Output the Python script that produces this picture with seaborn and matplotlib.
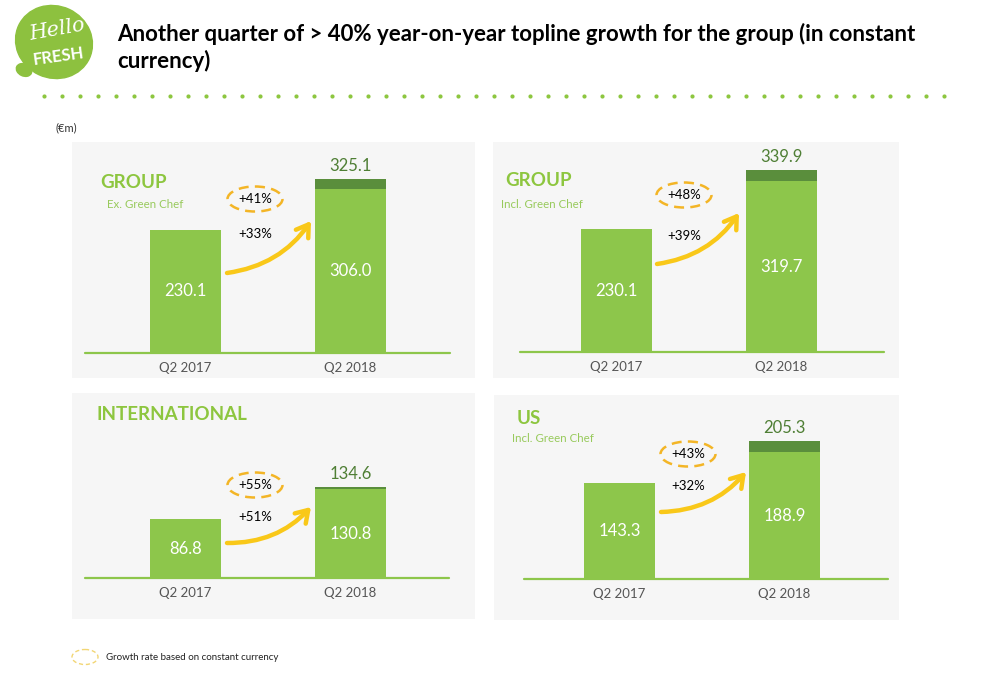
import numpy as np
import pandas as pd
import matplotlib
matplotlib.use("Agg")
import matplotlib.pyplot as plt
from matplotlib.patches import Ellipse
import seaborn as sns

# ---------------- data ----------------
periods = ["Q2 2017", "Q2 2018"]
panel_titles = ["GROUP", "GROUP", "INTERNATIONAL", "US"]
panel_subtitles = ["Ex. Green Chef", "Incl. Green Chef", "", "Incl. Green Chef"]
q2_2017 = [230.1, 230.1, 86.8, 143.3]
q2_2018_total = [325.1, 339.9, 134.6, 205.3]
q2_2018_base = [306.0, 319.7, 130.8, 188.9]
growth_reported = ["+33%", "+39%", "+51%", "+32%"]
growth_cc = ["+41%", "+48%", "+55%", "+43%"]

title = ("Another quarter of > 40% year-on-year topline growth for the group (in constant\n"
         "currency)")
unit_label = "(\u20acm)"
legend_text = "Growth rate based on constant currency"

# ---------------- style ----------------
sns.set_theme(style="white")
plt.rcParams["font.family"] = ["Lato", "DejaVu Sans"]

LIGHT = "#8DC64B"
DARK = "#5A8E3C"
HEAD = "#8DC63F"
SUB = "#98CA5C"
TOPTXT = "#4F7F35"
AXIS_TXT = "#555555"
ARROW = "#F9C819"
ELL = "#F3B526"
PANEL_BG = "#F6F6F6"

W, H = 1001, 673
fig = plt.figure(figsize=(W / 100, H / 100), dpi=100)
fig.patch.set_facecolor("white")


def rect(l, t, r, b):
    return [l / W, 1 - b / H, (r - l) / W, (b - t) / H]


# layout of the four panels (pixels): rect, baseline, px height of Q2 2017 bar,
# bar centres, baseline extent
layout = [
    dict(r=(72, 142, 475, 378), base=353, px=123, cx=(185.5, 350.5), line=(85, 450)),
    dict(r=(493, 142, 899, 378), base=352, px=123, cx=(616.5, 781.5), line=(520, 884)),
    dict(r=(72, 393, 475, 619), base=578, px=59, cx=(185.5, 350.5), line=(85, 449)),
    dict(r=(494, 395, 899, 620), base=579, px=96, cx=(619.5, 784.5), line=(524, 888)),
]

bar_w = 71 / 165

for i, L in enumerate(layout):
    l, t, r, b = L["r"]
    ax = fig.add_axes(rect(l, t, r, b))
    ax.set_facecolor(PANEL_BG)
    for s in ax.spines.values():
        s.set_visible(False)
    df_tot = pd.DataFrame({"period": periods, "value": [q2_2017[i], q2_2018_total[i]]})
    df_base = pd.DataFrame({"period": periods, "value": [q2_2017[i], q2_2018_base[i]]})
    sns.barplot(data=df_tot, x="period", y="value", color=DARK, width=bar_w,
                saturation=1, errorbar=None, linewidth=0, ax=ax)
    sns.barplot(data=df_base, x="period", y="value", color=LIGHT, width=bar_w,
                saturation=1, errorbar=None, linewidth=0, ax=ax)
    upp = q2_2017[i] / L["px"]
    ax.set_ylim(-(b - L["base"]) * upp, (L["base"] - t) * upp)
    c0, c1 = L["cx"]
    d = c1 - c0
    ax.set_xlim(-(c0 - l) / d, 1 + (r - c1) / d)
    ax.axhline(0, xmin=(L["line"][0] - l) / (r - l), xmax=(L["line"][1] - l) / (r - l),
               color=LIGHT, lw=1.6, zorder=3)
    ax.set_xticks([]); ax.set_yticks([])
    ax.set_xlabel(""); ax.set_ylabel("")
    # value labels
    ax.text(0, q2_2017[i] / 2, f"{q2_2017[i]:.1f}", ha="center", va="center",
            color="white", fontsize=12)
    ax.text(1, q2_2018_base[i] / 2, f"{q2_2018_base[i]:.1f}", ha="center", va="center",
            color="white", fontsize=12)
    ax.annotate(f"{q2_2018_total[i]:.1f}", (1, q2_2018_total[i]), xytext=(0, 13),
                textcoords="offset pixels", ha="center", va="center",
                color=TOPTXT, fontsize=12)
    for k, p in enumerate(periods):
        ax.annotate(p, (k, 0), xytext=(0, -15), textcoords="offset pixels",
                    ha="center", va="center", color=AXIS_TXT, fontsize=9.5)

# ---------------- overlay decorations ----------------
ov = fig.add_axes([0, 0, 1, 1])
ov.set_xlim(0, W); ov.set_ylim(H, 0)
ov.axis("off"); ov.patch.set_alpha(0)

# logo
ov.add_patch(Ellipse((54, 42), 78, 72, angle=25, color="#8DC13F", zorder=2))
ov.add_patch(Ellipse((24, 70), 16, 12, angle=25, color="#8DC13F", zorder=2))
ov.text(57, 30, "Hello", ha="center", va="center", color="white", fontsize=15,
        style="italic", rotation=10, family=["DejaVu Serif"], zorder=3)
ov.text(58, 56, "FRESH", ha="center", va="center", color="white", fontsize=12,
        fontweight="bold", rotation=8, zorder=3)

# title
ov.text(117, 47.5, title, ha="left", va="center", fontsize=16, fontweight="bold",
        color="black", linespacing=1.3)

# dotted rule
dots_x = np.arange(44, 950, 18)
ov.scatter(dots_x, np.full_like(dots_x, 96, dtype=float), s=9, color="#8DC63F",
           linewidths=0, zorder=2)

ov.text(55, 128, unit_label, ha="left", va="center", fontsize=8, color="#333333")

# panel headings
heads = [(100, 183), (505, 180), (96, 415), (517, 418)]
subs = [(107, 204), (501, 204), None, (512, 439)]
for i in range(4):
    ov.text(heads[i][0], heads[i][1], panel_titles[i], ha="left", va="center",
            fontsize=13.5, fontweight="bold", color=HEAD)
    if subs[i] is not None and panel_subtitles[i]:
        ov.text(subs[i][0], subs[i][1], panel_subtitles[i], ha="left", va="center",
                fontsize=8.3, color=SUB)

# growth annotations
cc_pos = [(255, 199), (684, 195), (255, 485), (688, 454)]
rep_pos = [(255, 234), (684, 236), (255, 517), (688, 486)]
arrows = [((227, 273), (311, 221)), ((657, 264), (739, 213)),
          ((227, 543), (311, 507)), ((661, 512), (746, 472))]
for i in range(4):
    x, y = cc_pos[i]
    ov.add_patch(Ellipse((x, y), 55, 25, fill=False, edgecolor=ELL, lw=1.8,
                         linestyle=(0, (4, 2.5)), zorder=3))
    ov.text(x, y, growth_cc[i], ha="center", va="center", fontsize=9.5, color="black")
    ov.text(rep_pos[i][0], rep_pos[i][1], growth_reported[i], ha="center", va="center",
            fontsize=9.5, color="black")
    (sx, sy), (ex, ey) = arrows[i]
    ov.annotate("", xy=(ex, ey), xytext=(sx, sy),
                arrowprops=dict(arrowstyle="->,head_length=0.7,head_width=0.45",
                                color=ARROW, lw=3.2, shrinkA=0, shrinkB=0,
                                capstyle="round", joinstyle="round",
                                connectionstyle="arc3,rad=0.22"), zorder=4)

# legend
ov.add_patch(Ellipse((85, 657), 26, 15, fill=False, edgecolor="#F2D675", lw=1.0,
                     linestyle=(0, (3, 2))))
ov.text(106, 657, legend_text, ha="left", va="center", fontsize=7, color="#222222")

fig.savefig("out.png", dpi=100, facecolor="white")
